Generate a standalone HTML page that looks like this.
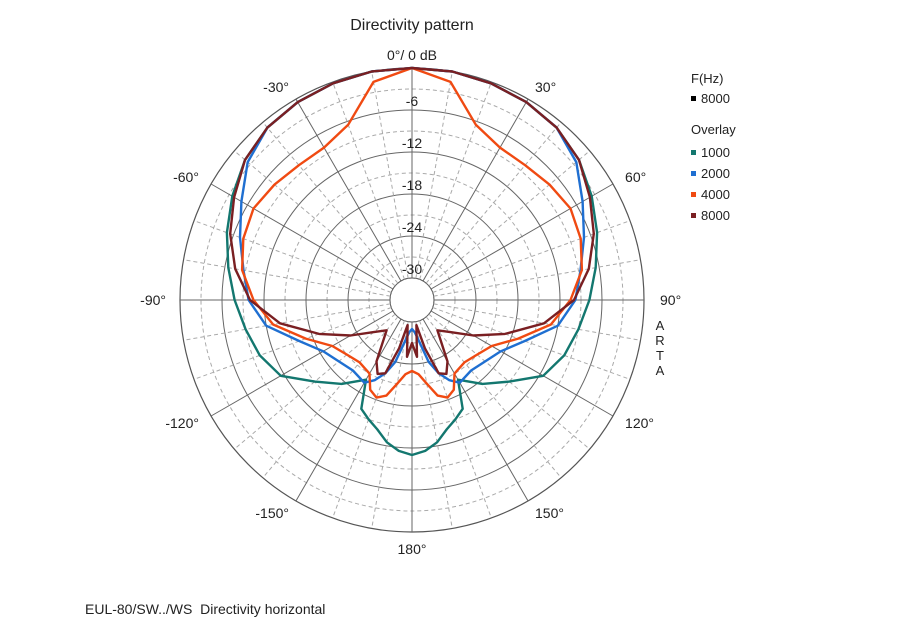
<!DOCTYPE html>
<html><head><meta charset="utf-8"><style>
body{margin:0;background:#fff;font-family:"Liberation Sans",sans-serif;}
svg text{font-family:"Liberation Sans",sans-serif;fill:#222;}
</style></head><body>
<svg width="900" height="628" viewBox="0 0 900 628">
<rect width="900" height="628" fill="#fff"/>
<text x="412" y="30" font-size="16" text-anchor="middle">Directivity pattern</text>
<g id="grid"></g>
<g id="curves"></g>
<g id="labels"></g>
<text x="691" y="83" font-size="13">F(Hz)</text>
<rect x="691" y="96" width="5" height="5" fill="#000"/>
<text x="701" y="103" font-size="13">8000</text>
<text x="691" y="134" font-size="13">Overlay</text>
<g id="legend"></g>
<text x="660" y="330" font-size="13" text-anchor="middle"><tspan x="660" dy="0">A</tspan><tspan x="660" dy="15">R</tspan><tspan x="660" dy="15">T</tspan><tspan x="660" dy="15">A</tspan></text>
<text x="85" y="614" font-size="14">EUL-80/SW../WS&#160; Directivity horizontal</text>
</svg>
<script>
const angles=[0,10,20,30,40,50,60,70,80,90,100,110,120,130,140,150,155,160,165,170,175,180];
const freqs=["1000","2000","4000","8000"];
const s1000=[0,0,-0.2,-0.5,-1,-2,-3.5,-5,-6.5,-7.8,-9,-10,-11.5,-15,-17.5,-20,-16,-15,-14,-12.5,-11.5,-11];
const s2000=[0,0,-0.2,-0.5,-1,-2.5,-5,-7,-8.7,-9.8,-12,-16,-18.5,-19.5,-20,-19.5,-20.5,-22,-24,-27,-28.5,-29];
const s4000=[0,-1.5,-6.5,-8,-8,-7.5,-7,-7.5,-8.5,-10.5,-13,-17,-20,-21,-21.5,-21,-19,-18.3,-19,-21,-22.5,-23];
const s8000=[0,0,-0.2,-0.5,-1,-2,-3.8,-5.5,-7.5,-10,-14,-19,-23,-26,-27.5,-23,-21.5,-22,-26,-29.5,-25,-27];
const ringLabels=["-6","-12","-18","-24","-30"];
const angleLabels=["0°/ 0 dB","30°","60°","90°","120°","150°","180°","-150°","-120°","-90°","-60°","-30°"];
const series=[s1000,s2000,s4000,s8000];
const colors=["#13776f","#1f6fd1","#f04a12","#7a1f22"];
const NS="http://www.w3.org/2000/svg";
const cx=412,cy=300,R0=22,R=232,dbMin=-30;
function rad(db){return R0+(Math.max(db,dbMin)-dbMin)/(0-dbMin)*(R-R0);}
function pt(a,r){const t=a*Math.PI/180;return [cx+r*Math.sin(t),cy-r*Math.cos(t)];}
function mk(tag,attrs,parent){const e=document.createElementNS(NS,tag);for(const k in attrs)e.setAttribute(k,attrs[k]);parent.appendChild(e);return e;}
const grid=document.getElementById('grid');
for(let db=-27;db<0;db+=3){const dashed=(db%6)!==0;const c=mk('circle',{cx:cx,cy:cy,r:rad(db),fill:'none',stroke:dashed?'#aaa':'#666','stroke-width':1,'stroke-dasharray':dashed?'4,3':'none'},grid);

}
const oc=mk('circle',{cx:cx,cy:cy,r:R,fill:'none',stroke:'#555','stroke-width':1.2},grid);


const ic=mk('circle',{cx:cx,cy:cy,r:R0,fill:'#fff',stroke:'#555','stroke-width':1},grid);


for(let a=0;a<360;a+=10){const major=a%30===0;const p1=pt(a,R0),p2=pt(a,R);
const l=mk('line',{x1:p1[0],y1:p1[1],x2:p2[0],y2:p2[1],stroke:major?'#666':'#aaa','stroke-width':1,'stroke-dasharray':major?'none':'4,3'},grid);

}
const curves=document.getElementById('curves');
series.forEach((s,i)=>{let pts=[];
angles.forEach((a,j)=>pts.push(pt(a,rad(s[j]))));
for(let j=angles.length-2;j>0;j--)pts.push(pt(-angles[j],rad(s[j])));
const p=mk('polygon',{points:pts.map(q=>q[0].toFixed(1)+','+q[1].toFixed(1)).join(' '),fill:'none',stroke:colors[i],'stroke-width':2.4,'stroke-linejoin':'round'},curves);

});
const labels=document.getElementById('labels');
ringLabels.forEach((t,i)=>{const db=-6*(i+1);const y=cy-rad(db)-4;
const e=mk('text',{x:cx,y:y,'font-size':14,'text-anchor':'middle'},labels);e.textContent=t;

});
angleLabels.forEach((t,i)=>{const a=i*30;const p=pt(a,R+14);let y=p[1]+5,anch='middle';
if(a===0){y=cy-R-8;}else if(a===180){y=cy+R+22;}
let x=p[0];if(a>0&&a<180){anch='start';x+=(a===90?2:0);}else if(a>180){anch='end';}
const e=mk('text',{x:x,y:y,'font-size':14,'text-anchor':anch},labels);e.textContent=t;

});
const lg=document.getElementById('legend');
freqs.forEach((f,i)=>{const y=157+i*21;
const r=mk('rect',{x:691,y:y-7,width:5,height:5,fill:colors[i]},lg);


const t=mk('text',{x:701,y:y,'font-size':13},lg);t.textContent=f;

});
</script>
</body></html>
